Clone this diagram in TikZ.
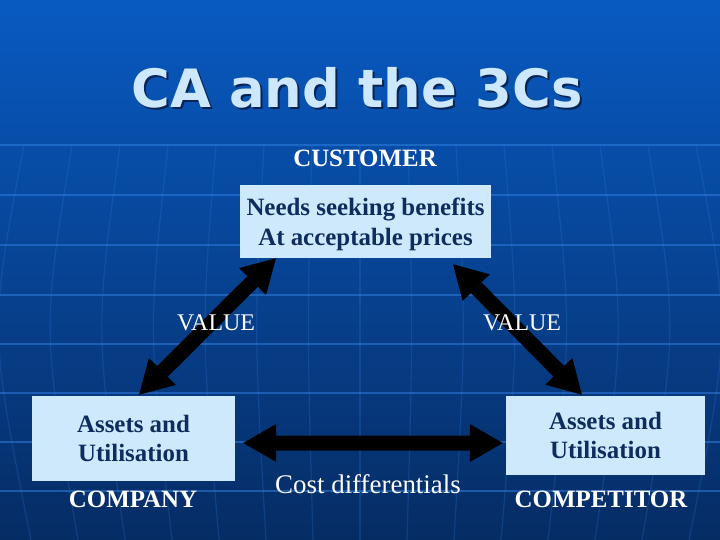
\documentclass[tikz,border=0pt]{standalone}
\usepackage{fontspec}
\setmainfont{Liberation Serif}
\newfontfamily\titlefont{DejaVu Sans}[BoldFont={DejaVu Sans Bold}]
\usetikzlibrary{arrows.meta}

\definecolor{bgtop}{RGB}{8,90,194}
\definecolor{bgbottom}{RGB}{6,44,100}
\definecolor{gridblue}{RGB}{50,130,230}
\definecolor{boxfill}{RGB}{205,233,251}
\definecolor{boxtext}{RGB}{14,44,94}
\definecolor{titlecol}{RGB}{205,232,252}
\definecolor{titledark}{RGB}{8,36,84}

\tikzset{
    gridline/.style={gridblue, line width=1.5bp, opacity=0.5},
    meridian/.style={gridblue, line width=1.2bp, opacity=0.22},
    infobox/.style={fill=boxfill, text=boxtext, inner sep=0pt, align=center,
        font=\bfseries\fontsize{25}{30}\selectfont},
    whitelabel/.style={text=white, anchor=base, inner sep=0pt},
    bigarrow/.style={line width=15bp,
        {Triangle[length=33bp,width=38bp,line width=0pt]}-{Triangle[length=33bp,width=38bp,line width=0pt]}}
}

\begin{document}
\begin{tikzpicture}[x=1bp, y=-1bp]
    % background
    \useasboundingbox (0,0) rectangle (720,540);
    \shade[top color=bgtop, bottom color=bgbottom] (0,0) rectangle (720,540);
    \foreach \y in {145,195,245,295,344,393,442,491}
        \draw[gridline] (0,\y) -- (720,\y);
    \foreach \k in {-8,...,8}
        \draw[meridian] ({360+\k*48},145) .. controls ({360+\k*53},330) .. ({360+\k*47},540);

    % title
    \node[anchor=base, text=titledark] (titleshadow) at (359,110) {\titlefont\bfseries\fontsize{53}{60}\selectfont CA and the 3Cs};
    \node[anchor=base, text=titlecol] (title) at (357,108) {\titlefont\bfseries\fontsize{53}{60}\selectfont CA and the 3Cs};

    % boxes
    \node[infobox, minimum width=251bp, minimum height=73bp] (customer) at (365.5,221.5) {\rule{0pt}{24bp}Needs seeking benefits\\At acceptable prices};
    \node[infobox, minimum width=203bp, minimum height=85bp] (company) at (133.5,438.5) {Assets and\\Utilisation};
    \node[infobox, minimum width=199bp, minimum height=79bp] (competitor) at (605.5,435.5) {Assets and\\Utilisation};

    % arrows
    \draw[bigarrow] ([xshift=5.5bp,yshift=1bp]company.north) -- ([xshift=-89.5bp]customer.south);
    \draw[bigarrow] ([xshift=87.5bp,yshift=-6bp]customer.south) -- ([xshift=-23.5bp,yshift=1bp]competitor.north);
    \draw[bigarrow] ([xshift=8bp,yshift=-4.5bp]company.east) -- ([xshift=-3bp,yshift=-7.5bp]competitor.west);

    % labels
    \node[whitelabel, font=\bfseries\fontsize{25}{30}\selectfont] (custlabel) at (365,167) {CUSTOMER};
    \node[whitelabel, font=\fontsize{24}{28}\selectfont] (valueleft) at (216,330) {VALUE};
    \node[whitelabel, font=\fontsize{24}{28}\selectfont] (valueright) at (522,330) {VALUE};
    \node[whitelabel, font=\bfseries\fontsize{25}{30}\selectfont] (complabel) at (133,507) {COMPANY};
    \node[whitelabel, font=\bfseries\fontsize{25}{30}\selectfont] (competlabel) at (601,507) {COMPETITOR};
    \node[whitelabel, font=\fontsize{27}{32}\selectfont] (costlabel) at (368,493) {Cost differentials};
\end{tikzpicture}
\end{document}
